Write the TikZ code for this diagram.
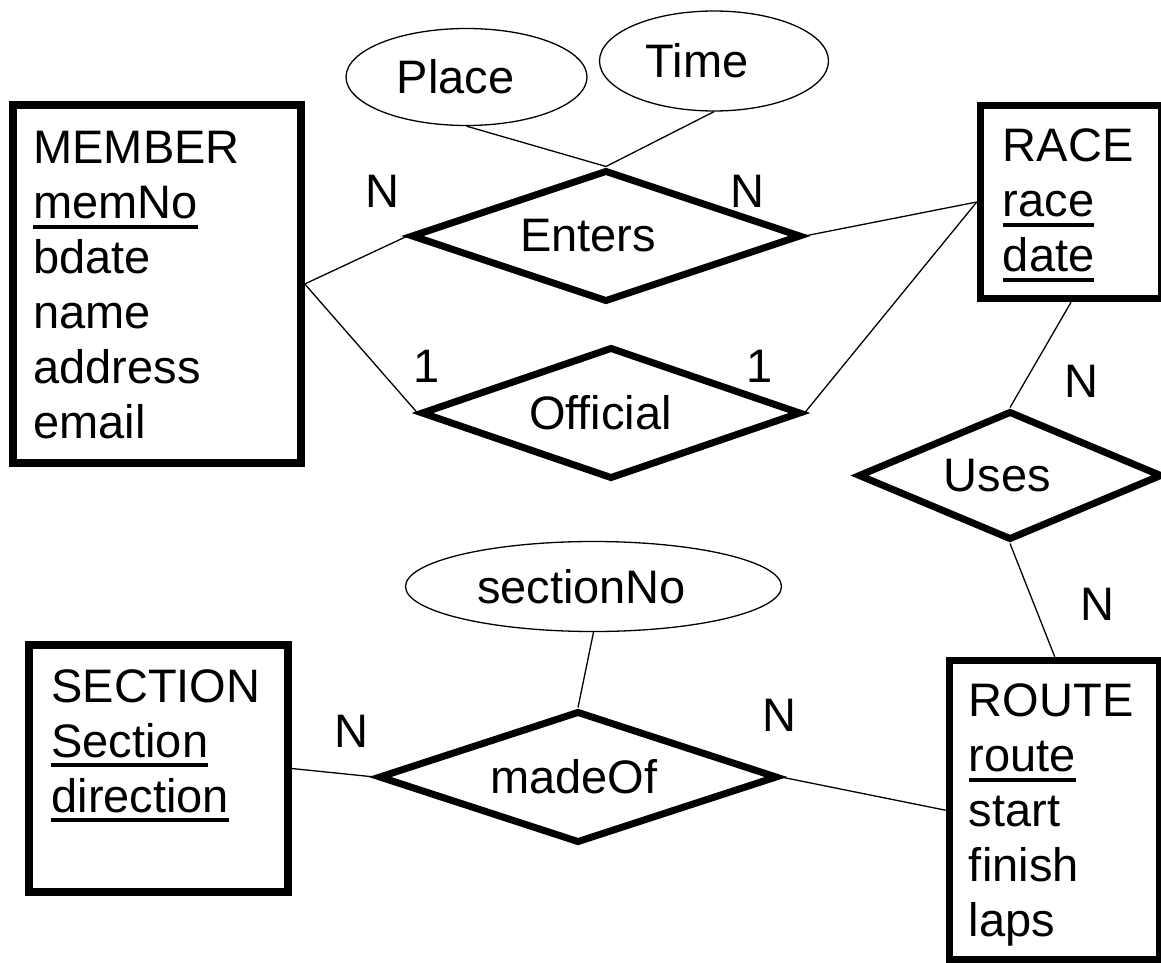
\documentclass[tikz,border=0pt]{standalone}
\usepackage{fontspec}
\setmainfont{Liberation Sans}
\usetikzlibrary{positioning, shapes.geometric}

% underlined key attribute
\newcommand{\keyattr}[1]{\setbox0\hbox{#1}\rlap{\rule[-10pt]{\wd0}{4pt}}\box0}

\begin{document}
\begin{tikzpicture}[
    x=1pt, y=-1pt,
    font=\fontsize{47}{55}\selectfont,
    entity/.style={rectangle, draw, line width=7.5pt, inner sep=0pt},
    attrs/.style={align=left, inner sep=0pt},
    rel/.style={diamond, draw, line width=7pt, aspect=3, inner sep=0pt, minimum height=132pt},
    attrib/.style={ellipse, draw, line width=1.3pt, inner sep=0pt},
    card/.style={anchor=base, inner sep=0pt},
    link/.style={line width=1.3pt}
]
\useasboundingbox (0,0) rectangle (1161,963);

% entities
\node[entity, minimum width=288pt, minimum height=358pt] (member) at (157,284) {};
\node[entity, minimum width=181pt, minimum height=193pt] (race) at (1071,202) {};
\node[entity, minimum width=259pt, minimum height=247pt] (section) at (158.5,768.5) {};
\node[entity, minimum width=210.5pt, minimum height=299.5pt] (route) at (1054.75,810.25) {};

\node[attrs, below right=30pt and 24pt of member.north west] (memberAttr)
    {MEMBER\\\keyattr{memNo}\\bdate\\name\\address\\email};
\node[attrs, below right=27pt and 26pt of race.north west] (raceAttr)
    {RACE\\\keyattr{race}\\\keyattr{date}};
\node[attrs, below right=28pt and 26pt of section.north west] (sectionAttr)
    {SECTION\\\keyattr{Section}\\\keyattr{direction}};
\node[attrs, below right=27pt and 23pt of route.north west] (routeAttr)
    {ROUTE\\\keyattr{route}\\start\\finish\\laps};

% relationships
\node[rel, minimum width=390pt] (enters) at (606,236) {\hspace*{-36pt}Enters};
\node[rel, minimum width=380pt] (official) at (611,413) {\hspace*{-21pt}Official};
\node[rel, minimum width=304pt, minimum height=129pt] (uses) at (1010,475.5) {\hspace*{-25pt}Uses};
\node[rel, minimum width=399pt] (madeof) at (578,777) {\hspace*{-8pt}madeOf};

% attributes of relationships
\node[attrib, minimum width=241pt, minimum height=97pt] (place) at (466.5,77) {\hspace*{-22pt}Place};
\node[attrib, minimum width=229pt, minimum height=100pt] (time) at (714,61) {\hspace*{-34pt}Time};
\node[attrib, minimum width=376pt, minimum height=90pt] (sectionno) at (593.5,586.5) {\hspace*{-24pt}sectionNo};

% connectors
\draw[link] (place.south) -- (enters.north);
\draw[link] (time.south) -- (enters.north);
\draw[link] (member.east) -- (enters.west);
\draw[link] (member.east) -- (official.west);
\draw[link] (enters.east) -- (race.west);
\draw[link] (official.east) -- (race.west);
\draw[link] (race.south) -- (uses.north);
\draw[link] (uses.south) -- (route.north);
\draw[link] (section.east) -- (madeof.west);
\draw[link] (madeof.east) -- (route.west);
\draw[link] (sectionno.south) -- (madeof.north);

% cardinalities
\node[card] (nEntMem) at (382,207) {N};
\node[card] (nEntRace) at (747,207) {N};
\node[card] (oneOffMem) at (427,382) {1};
\node[card] (oneOffRace) at (759.5,382) {1};
\node[card] (nUsesRace) at (1081,397) {N};
\node[card] (nUsesRoute) at (1097,620) {N};
\node[card] (nMadeSec) at (351,747) {N};
\node[card] (nMadeRoute) at (779,731) {N};
\end{tikzpicture}
\end{document}
